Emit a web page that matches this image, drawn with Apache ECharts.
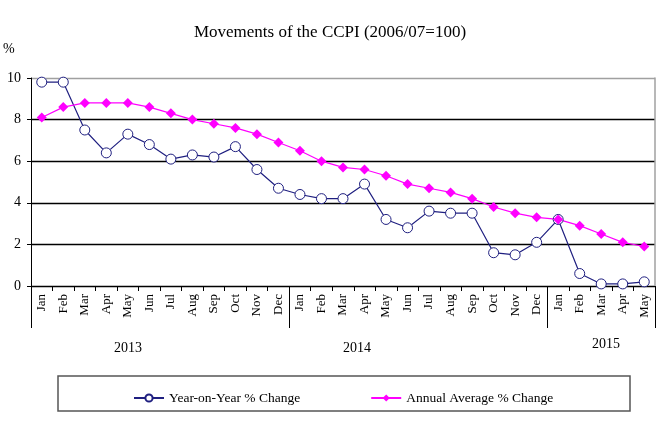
<!DOCTYPE html>
<html><head><meta charset="utf-8">
<script src="https://cdn.jsdelivr.net/npm/echarts@6/dist/echarts.min.js"></script>
<style>html,body{margin:0;padding:0;background:#fff}#c{width:660px;height:440px}</style>
</head><body><div id="c"></div>
<script>
const months = ['Jan','Feb','Mar','Apr','May','Jun','Jul','Aug','Sep','Oct','Nov','Dec',
  'Jan','Feb','Mar','Apr','May','Jun','Jul','Aug','Sep','Oct','Nov','Dec',
  'Jan','Feb','Mar','Apr','May'];
const years = ['2013','2014','2015'];
const yearOnYear = [9.8,9.8,7.5,6.4,7.3,6.8,6.1,6.3,6.2,6.7,5.6,4.7,
  4.4,4.2,4.2,4.9,3.2,2.8,3.6,3.5,3.5,1.6,1.5,2.1,
  3.2,0.6,0.1,0.1,0.2];
const annualAvg = [8.1,8.6,8.8,8.8,8.8,8.6,8.3,8.0,7.8,7.6,7.3,6.9,
  6.5,6.0,5.7,5.6,5.3,4.9,4.7,4.5,4.2,3.8,3.5,3.3,
  3.2,2.9,2.5,2.1,1.9];
const yTicks = [0,2,4,6,8,10];
const seriesNames = ['Year-on-Year % Change','Annual Average % Change'];
const titleText = 'Movements of the CCPI (2006/07=100)';

const serif = '"Liberation Serif","DejaVu Serif",serif';
const navy = '#1f1f80';
const chart = echarts.init(document.getElementById('c'));
chart.setOption({
  animation: false,
  backgroundColor: '#fff',
  title: {text: titleText, left: 'center', top: 24, padding: 0,
    textStyle: {fontFamily: serif, fontSize: 17, fontWeight: 'normal', color: '#000'}},
  grid: {left: 31, right: 5, top: 78, bottom: 154, containLabel: false},
  legend: {
    data: seriesNames, left: 128, top: 386, itemGap: 70, itemWidth: 30, itemHeight: 9,
    textStyle: {fontFamily: serif, fontSize: 13.5, color: '#000'}
  },
  xAxis: [{
    type: 'category', data: months, boundaryGap: true,
    axisLine: {lineStyle: {color: '#000', width: 1}},
    axisTick: {show: true, interval: 0, length: 5, lineStyle: {color: '#000'}},
    axisLabel: {interval: 0, rotate: 90, fontFamily: serif, fontSize: 13, color: '#000', margin: 8, hideOverlap: false}
  }, {
    type: 'category', data: months, boundaryGap: true, position: 'bottom',
    axisLine: {show: false},
    axisLabel: {show: false},
    axisTick: {show: true, length: 42, lineStyle: {color: '#000', width: 1},
      interval: function (i) { return i === 0 || i === 12 || i === 24; }}
  }],
  yAxis: [{
    type: 'value', min: yTicks[0], max: yTicks[yTicks.length - 1], interval: 2,
    axisLine: {show: true, lineStyle: {color: '#000'}},
    axisTick: {show: true, length: 4, lineStyle: {color: '#000'}},
    axisLabel: {fontFamily: serif, fontSize: 14, color: '#000', margin: 10},
    splitLine: {show: true, lineStyle: {color: ['#000','#000','#000','#000','#000','#a0a0a0'], width: 1.3}}
  }, {
    type: 'value', min: 0, max: 10, interval: 2, position: 'right',
    axisLine: {show: true, lineStyle: {color: '#a0a0a0', width: 1.5}},
    axisTick: {show: false}, axisLabel: {show: false}, splitLine: {show: false}
  }],
  graphic: [
    {type: 'text', x: 3, y: 49, style: {text: '%', font: '14px ' + serif, fill: '#000', verticalAlign: 'middle'}},
    {type: 'text', x: 128, y: 348, style: {text: years[0], font: '14px ' + serif, fill: '#000', align: 'center', verticalAlign: 'middle'}},
    {type: 'text', x: 357, y: 348, style: {text: years[1], font: '14px ' + serif, fill: '#000', align: 'center', verticalAlign: 'middle'}},
    {type: 'text', x: 606, y: 344, style: {text: years[2], font: '14px ' + serif, fill: '#000', align: 'center', verticalAlign: 'middle'}},
    {type: 'rect', shape: {x: 58, y: 376, width: 572, height: 35}, z: -1,
      style: {fill: 'none', stroke: '#555', lineWidth: 1.5}}
  ],
  series: [{
    name: seriesNames[0], type: 'line', data: yearOnYear,
    symbol: 'circle', symbolSize: 10, color: navy,
    lineStyle: {color: navy, width: 1.2},
    itemStyle: {color: '#fff', borderColor: navy, borderWidth: 1}
  }, {
    name: seriesNames[1], type: 'line', data: annualAvg,
    symbol: 'diamond', symbolSize: 10, color: '#ff00ff',
    lineStyle: {color: '#ff00ff', width: 1.2},
    itemStyle: {color: '#ff00ff'}
  }]
});
</script></body></html>
